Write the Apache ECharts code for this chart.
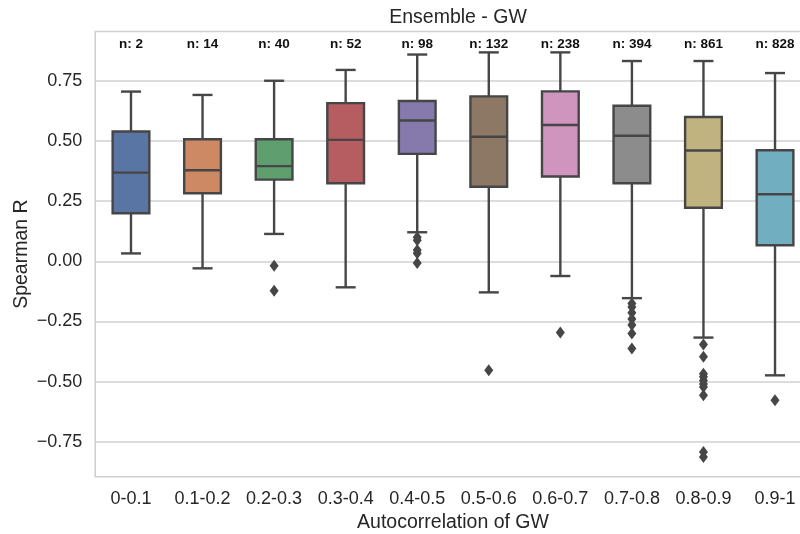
<!DOCTYPE html>
<html>
<head>
<meta charset="utf-8">
<script src="https://cdn.jsdelivr.net/npm/echarts@6/dist/echarts.min.js"></script>
<style>html,body{margin:0;padding:0;background:#fff;}#c{width:800px;height:534px;}</style>
</head>
<body>
<div id="c"></div>
<script>
const categories = ['0-0.1','0.1-0.2','0.2-0.3','0.3-0.4','0.4-0.5','0.5-0.6','0.6-0.7','0.7-0.8','0.8-0.9','0.9-1'];
const counts = [2, 14, 40, 52, 98, 132, 238, 394, 861, 828];
const whiskerLow  = [0.033, -0.029, 0.114, -0.108, 0.121, -0.129, -0.061, -0.153, -0.317, -0.474];
const q1          = [0.200,  0.283, 0.340,  0.325, 0.447,  0.310,  0.353,  0.325,  0.223,  0.067];
const median      = [0.369,  0.379, 0.396,  0.505, 0.586,  0.518,  0.567,  0.522,  0.461,  0.279];
const q3          = [0.540,  0.508, 0.508,  0.658, 0.667,  0.686,  0.707,  0.647,  0.600,  0.462];
const whiskerHigh = [0.706,  0.692, 0.751,  0.796, 0.860,  0.869,  0.869,  0.833,  0.833,  0.783];
const outliers = [
  [],
  [],
  [-0.018, -0.122],
  [],
  [0.100, 0.088, 0.047, 0.034, -0.007],
  [-0.453],
  [-0.296],
  [-0.175, -0.190, -0.214, -0.240, -0.265, -0.300, -0.362],
  [-0.346, -0.397, -0.467, -0.480, -0.495, -0.510, -0.522, -0.557, -0.793, -0.814],
  [-0.578]
];
const yTicks = [-0.75, -0.5, -0.25, 0, 0.25, 0.5, 0.75];

const palette = ['#5875a4','#cc8963','#5f9e6e','#b55d60','#857aab','#8d7866','#d095bf','#8c8c8c','#c1b37f','#71aec0'];
const EDGE = '#464646';
const TEXT = '#262626';
const FONT = '"Liberation Sans", Arial, sans-serif';
const LABEL_Y = 0.9035;

const boxData = categories.map((c, i) => [i, whiskerLow[i], q1[i], median[i], q3[i], whiskerHigh[i]]);
const outlierData = [];
outliers.forEach((arr, i) => arr.forEach(v => outlierData.push([i, v])));
const countData = counts.map((n, i) => [i, LABEL_Y, n]);

function renderBox(params, api) {
  const i = api.value(0);
  const lo = api.coord([i, api.value(1)]);
  const b1 = api.coord([i, api.value(2)]);
  const md = api.coord([i, api.value(3)]);
  const b3 = api.coord([i, api.value(4)]);
  const hi = api.coord([i, api.value(5)]);
  const band = api.size([1, 0])[0];
  const bw = band * 0.513;
  const cw = bw * 0.545;
  const x = lo[0];
  const st = { stroke: EDGE, lineWidth: 2.4 };
  return {
    type: 'group',
    children: [
      { type: 'line', shape: { x1: x, y1: hi[1], x2: x, y2: b3[1] }, style: st },
      { type: 'line', shape: { x1: x, y1: b1[1], x2: x, y2: lo[1] }, style: st },
      { type: 'line', shape: { x1: x - cw / 2, y1: hi[1], x2: x + cw / 2, y2: hi[1] }, style: st },
      { type: 'line', shape: { x1: x - cw / 2, y1: lo[1], x2: x + cw / 2, y2: lo[1] }, style: st },
      { type: 'rect', shape: { x: x - bw / 2, y: b3[1], width: bw, height: b1[1] - b3[1] },
        style: { fill: palette[params.dataIndex], stroke: EDGE, lineWidth: 2.4 } },
      { type: 'line', shape: { x1: x - bw / 2, y1: md[1], x2: x + bw / 2, y2: md[1] }, style: st }
    ]
  };
}

function renderCount(params, api) {
  const p = api.coord([api.value(0), api.value(1)]);
  return {
    type: 'text',
    x: p[0], y: p[1],
    style: {
      text: 'n: ' + api.value(2),
      x: 0, y: 0,
      align: 'center', verticalAlign: 'middle',
      fill: '#111',
      font: 'bold 13.5px ' + FONT
    }
  };
}

const chart = echarts.init(document.getElementById('c'), null, { renderer: 'canvas' });
chart.setOption({
  animation: false,
  backgroundColor: '#ffffff',
  textStyle: { fontFamily: FONT },
  title: {
    text: 'Ensemble - GW',
    left: 453, top: 3, textAlign: 'center',
    textStyle: { fontFamily: FONT, fontSize: 19.5, fontWeight: 'normal', color: TEXT }
  },
  grid: {
    left: 95.2, width: 715.6, top: 31.5, height: 445.2,
    outerBoundsMode: 'none',
    show: true, borderColor: '#d0d0d0', borderWidth: 1.6, backgroundColor: '#ffffff',
    containLabel: false
  },
  xAxis: {
    type: 'category',
    data: categories,
    boundaryGap: true,
    axisLine: { show: false },
    axisTick: { show: false },
    splitLine: { show: false },
    axisLabel: { color: TEXT, fontSize: 18, fontFamily: FONT, margin: 13, interval: 0 },
    name: 'Autocorrelation of GW',
    nameLocation: 'middle',
    nameGap: 36,
    nameMoveOverlap: false,
    nameTextStyle: { color: TEXT, fontSize: 19.5, fontFamily: FONT }
  },
  yAxis: {
    type: 'value',
    min: -0.8955, max: 0.9558,
    axisLine: { show: false },
    axisTick: { show: false, customValues: yTicks },
    axisLabel: {
      customValues: yTicks,
      color: TEXT, fontSize: 18, fontFamily: FONT, margin: 13,
      formatter: v => (v < 0 ? '\u2212' : '') + Math.abs(v).toFixed(2)
    },
    splitLine: { show: true, lineStyle: { color: '#d0d0d0', width: 1.5 } },
    name: 'Spearman R',
    nameLocation: 'middle',
    nameGap: 64,
    nameMoveOverlap: false,
    nameTextStyle: { color: TEXT, fontSize: 19.5, fontFamily: FONT }
  },
  series: [
    {
      type: 'custom',
      renderItem: renderBox,
      data: boxData,
      encode: { x: 0, y: [1, 2, 3, 4, 5] },
      z: 3
    },
    {
      type: 'scatter',
      data: outlierData,
      symbol: 'diamond',
      symbolSize: [9, 12],
      itemStyle: { color: EDGE, opacity: 1 },
      z: 4
    },
    {
      type: 'custom',
      renderItem: renderCount,
      data: countData,
      encode: { x: 0, y: 1 },
      z: 5
    }
  ]
});
</script>
</body>
</html>
